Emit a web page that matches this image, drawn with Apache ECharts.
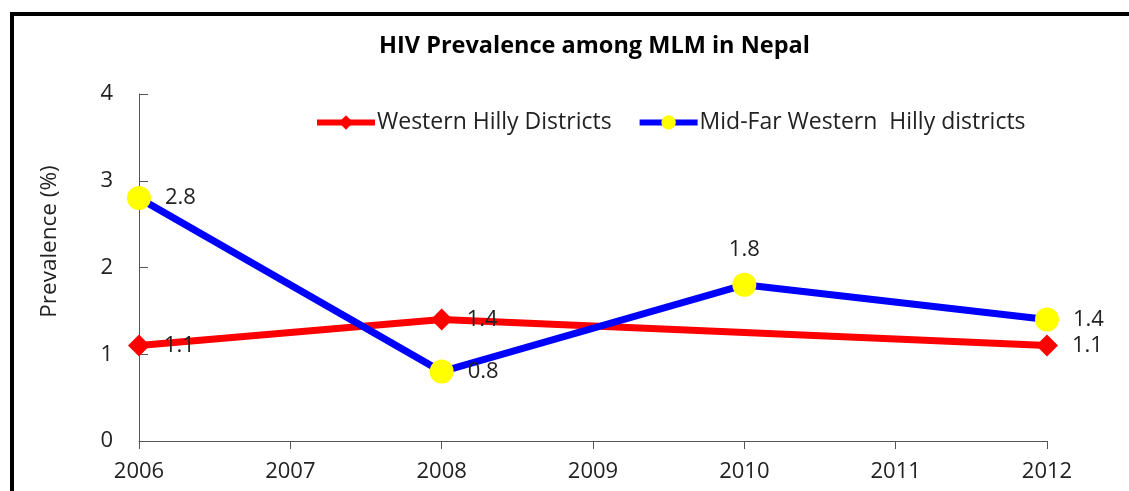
<!DOCTYPE html>
<html>
<head>
<meta charset="utf-8">
<script src="https://cdn.jsdelivr.net/npm/echarts@6/dist/echarts.min.js"></script>
<style>
	html, body { margin: 0; padding: 0; background: #fff; }
	#chart { width: 1129px; height: 491px; }
</style>
</head>
<body>
<div id="chart"></div>
<script>
var years = ['2006', '2007', '2008', '2009', '2010', '2011', '2012'];
// years without a survey are left empty, the lines jump over them
var westernHilly = [1.1, null, 1.4, null, null, null, 1.1];
var midFarWestern = [2.8, null, 0.8, null, 1.8, null, 1.4];
var yTicks = [0, 1, 2, 3, 4];

var textColor = '#222';
var fontName = '"Open Sans", Lato, sans-serif';

var chart = echarts.init(document.getElementById('chart'));

function labelPos(name, i) {
	// 2010 label of the blue line sits above the point
	if (name == 'mid' && i == 4) return 'top';
	return 'right';
}

function buildData(values, name) {
	return values.map(function(v, i) {
		if (v == null) return null;
		return {
			value: v,
			label: {
				show: true,
				position: labelPos(name, i),
				distance: labelPos(name, i) == 'top' ? 12 : 14
			}
		};
	});
}

var option = {
	backgroundColor: '#fff',
	animation: false,
	title: {
		text: 'HIV Prevalence among MLM in Nepal',
		left: 374,
		top: 29,
		textStyle: {
			color: '#000',
			fontSize: 23.5,
			fontWeight: 'bold',
			fontFamily: fontName
		}
	},
	legend: {
		left: 309,
		top: 106,
		itemWidth: 58,
		itemHeight: 18,
		itemGap: 25,
		selectedMode: false,
		lineStyle: { width: 6 },
		textStyle: {
			color: textColor,
			fontSize: 23,
			fontFamily: fontName,
			padding: [0, 0, 0, -3]
		},
		data: ['Western Hilly Districts', 'Mid-Far Western  Hilly districts']
	},
	grid: {
		left: 139,
		right: 82,
		top: 94,
		bottom: 50
	},
	xAxis: {
		type: 'category',
		data: years,
		boundaryGap: false,
		axisLine: { lineStyle: { color: '#555', width: 1 } },
		axisTick: { show: true, inside: false, length: 8, lineStyle: { color: '#555' } },
		axisLabel: {
			color: textColor,
			fontSize: 22,
			fontFamily: fontName,
			margin: 20,
			interval: 0
		},
		splitLine: { show: false }
	},
	yAxis: {
		type: 'value',
		min: yTicks[0],
		max: yTicks[yTicks.length - 1],
		interval: 1,
		name: 'Prevalence (%)',
		nameLocation: 'middle',
		nameGap: 78,
		nameTextStyle: {
			color: textColor,
			fontSize: 22.5,
			fontFamily: fontName,
			// name sits a bit above the middle of the axis
			padding: [0, 0, 0, 52]
		},
		axisLine: { show: true, lineStyle: { color: '#555', width: 1 } },
		axisTick: { show: true, inside: true, length: 9, lineStyle: { color: '#555' } },
		axisLabel: {
			color: textColor,
			fontSize: 22,
			fontFamily: fontName,
			margin: 26
		},
		splitLine: { show: false }
	},
	series: [{
		name: 'Western Hilly Districts',
		type: 'line',
		data: buildData(westernHilly, 'west'),
		connectNulls: true,
		symbol: 'diamond',
		symbolSize: 22,
		showAllSymbol: true,
		lineStyle: { color: '#ff0000', width: 7 },
		itemStyle: { color: '#ff0000' },
		label: {
			color: textColor,
			fontSize: 22,
			fontFamily: fontName
		},
		z: 2
	}, {
		name: 'Mid-Far Western  Hilly districts',
		type: 'line',
		data: buildData(midFarWestern, 'mid'),
		connectNulls: true,
		symbol: 'circle',
		symbolSize: 24,
		showAllSymbol: true,
		lineStyle: { color: '#0000ff', width: 7 },
		itemStyle: { color: '#ffff00' },
		label: {
			color: textColor,
			fontSize: 22,
			fontFamily: fontName
		},
		z: 3
	}],
	graphic: [{
		type: 'rect',
		shape: { x: 12, y: 14, width: 1140, height: 520 },
		style: { fill: 'none', stroke: '#000', lineWidth: 4 },
		z: 100
	}]
};

chart.setOption(option);
</script>
</body>
</html>
